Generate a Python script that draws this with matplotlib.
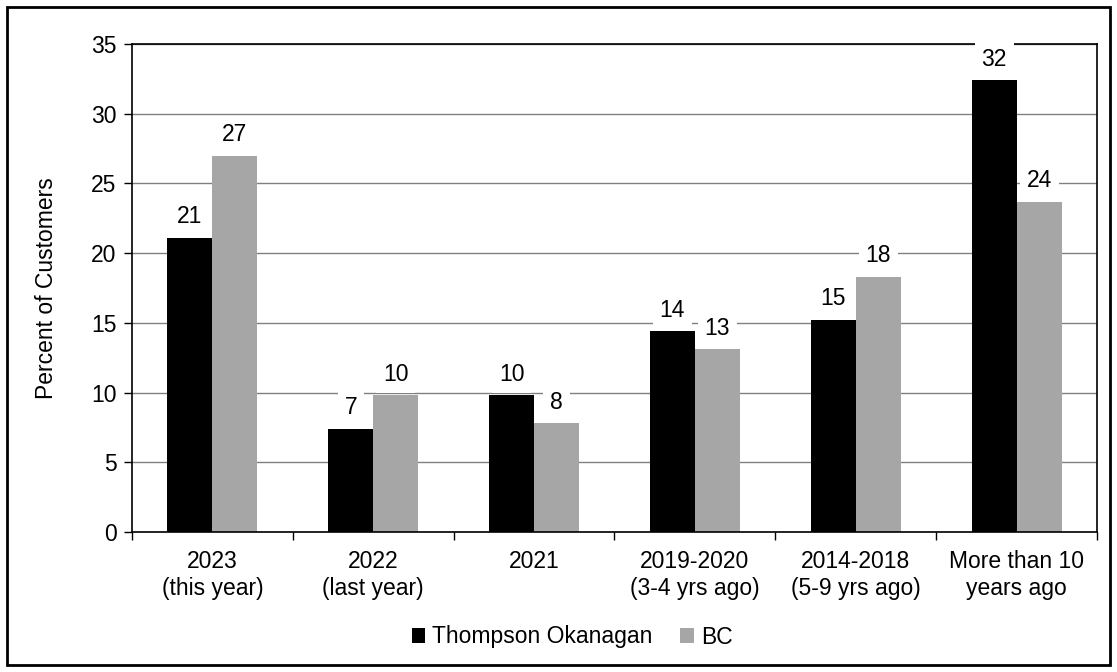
import matplotlib
matplotlib.use("Agg")
import matplotlib.pyplot as plt
from matplotlib.patches import Rectangle
import numpy as np

plt.rcParams['font.family'] = ['Liberation Sans', 'DejaVu Sans']

categories = ["2023\n(this year)", "2022\n(last year)", "2021",
              "2019-2020\n(3-4 yrs ago)", "2014-2018\n(5-9 yrs ago)",
              "More than 10\nyears ago"]
thompson_okanagan = [21.1, 7.4, 9.8, 14.4, 15.2, 32.4]
bc = [27.0, 9.8, 7.8, 13.1, 18.3, 23.7]
series_names = ["Thompson Okanagan", "BC"]
y_ticks = [0, 5, 10, 15, 20, 25, 30, 35]

FS = 16.5

fig = plt.figure(figsize=(11.17, 6.72), dpi=100)
ax = fig.add_axes([132 / 1117, 1 - 532 / 672, (1097 - 132) / 1117, (532 - 44) / 672])

x = np.arange(len(categories))
w = 0.28
b1 = ax.bar(x - w / 2, thompson_okanagan, w, color="black", label=series_names[0], zorder=2)
b2 = ax.bar(x + w / 2, bc, w, color="#a6a6a6", label=series_names[1], zorder=2)

for bars, vals in ((b1, thompson_okanagan), (b2, bc)):
    for rect, v in zip(bars, vals):
        ax.annotate(f"{v:.0f}", (rect.get_x() + rect.get_width() / 2, v),
                    xytext=(0, 7), textcoords="offset points",
                    ha="center", va="bottom", fontsize=FS, zorder=4,
                    annotation_clip=False,
                    bbox=dict(boxstyle="square,pad=0.3", fc="white", ec="none"))

ax.set_xlim(-0.5, len(categories) - 0.5)
ax.set_ylim(0, 35)
ax.set_yticks(y_ticks)
ax.set_yticklabels([str(t) for t in y_ticks], fontsize=FS)
ax.yaxis.grid(True, color="#808080", lw=1, zorder=0)
ax.set_axisbelow(True)

ax.set_xticks(x)
ax.set_xticklabels(categories, fontsize=FS, linespacing=1.2)
ax.tick_params(axis="x", which="major", length=0, pad=13)
ax.set_xticks(np.arange(-0.5, len(categories)), minor=True)
ax.tick_params(axis="x", which="minor", length=6, width=1, direction="out")
ax.tick_params(axis="y", length=6, width=1, direction="out", pad=5)

for s in ax.spines.values():
    s.set_color("black")
    s.set_linewidth(1.2)

ax.set_ylabel("Percent of Customers", fontsize=FS, labelpad=24)

fig.legend(handles=[b1, b2], labels=series_names, loc="center",
           bbox_to_anchor=(572 / 1117, 1 - 637 / 672), ncol=2, frameon=False, fontsize=FS,
           handlelength=0.6, handleheight=0.6, handletextpad=0.3, columnspacing=1.2)

fig.patches.append(Rectangle((7 / 1117, 1 - 665 / 672), (1110 - 7) / 1117, (665 - 7) / 672,
                             transform=fig.transFigure, fill=False, ec="black", lw=2))

fig.savefig("out.png", dpi=100)
